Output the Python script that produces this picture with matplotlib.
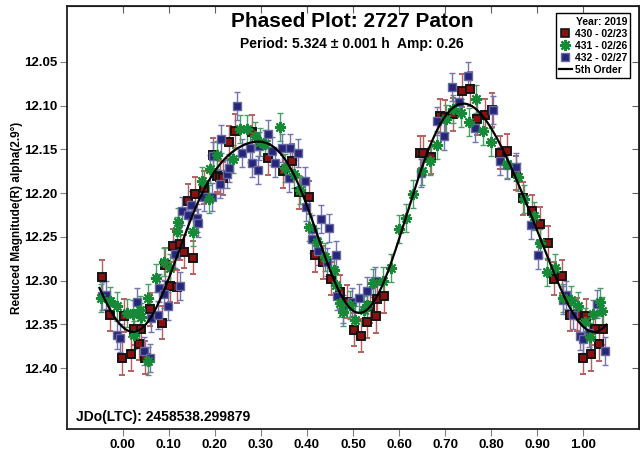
#!/usr/bin/env python3
import numpy as np
import matplotlib
matplotlib.use('Agg')
import matplotlib.pyplot as plt
from matplotlib.lines import Line2D

plt.rcParams['font.family'] = ['Liberation Sans', 'DejaVu Sans']
plt.rcParams['font.weight'] = 'bold'

# session 430 - 02/23
ph_430 = [-0.044, -0.027, 0.004, -0.001, 0.018, 0.024, 0.035, 0.040, 0.049, 0.059,
          0.085, 0.093, 0.102, 0.109, 0.119, 0.125, 0.134, 0.143, 0.152, 0.158,
          0.176, 0.196, 0.205, 0.212, 0.219, 0.230, 0.244, 0.281, 0.315, 0.348,
          0.367, 0.382, 0.404, 0.418, 0.435, 0.452, 0.471, 0.487, 0.503, 0.518,
          0.531, 0.536, 0.550, 0.553, 0.568, 0.646, 0.652, 0.669, 0.688, 0.700,
          0.718, 0.736, 0.753, 0.769, 0.787, 0.801, 0.818, 0.835, 0.854, 0.870,
          0.888, 0.906, 0.923, 0.937, 0.954, 0.971, 0.987, 0.999, 1.006, 1.016,
          1.025, 1.034, 1.042]
mag_430 = [12.296, 12.339, 12.340, 12.389, 12.384, 12.355, 12.372, 12.355, 12.388, 12.333,
           12.348, 12.282, 12.306, 12.260, 12.307, 12.258, 12.267, 12.209, 12.274, 12.201,
           12.194, 12.156, 12.180, 12.182, 12.183, 12.142, 12.129, 12.130, 12.160, 12.175,
           12.163, 12.199, 12.205, 12.271, 12.279, 12.298, 12.313, 12.324, 12.356, 12.363,
           12.347, 12.329, 12.341, 12.321, 12.318, 12.154, 12.154, 12.159, 12.112, 12.113,
           12.110, 12.083, 12.081, 12.115, 12.111, 12.105, 12.154, 12.152, 12.177, 12.206,
           12.221, 12.235, 12.257, 12.298, 12.295, 12.339, 12.339, 12.388, 12.340, 12.384,
           12.355, 12.373, 12.355]
err_430 = 0.019

# session 431 - 02/26
ph_431 = [-0.047, -0.027, -0.012, 0.010, 0.022, 0.024, 0.038, 0.040, 0.056, 0.056,
          0.073, 0.090, 0.103, 0.119, 0.121, 0.154, 0.172, 0.187, 0.190, 0.205,
          0.239, 0.255, 0.271, 0.288, 0.299, 0.310, 0.341, 0.353, 0.371, 0.385,
          0.404, 0.422, 0.440, 0.458, 0.464, 0.472, 0.479, 0.494, 0.505, 0.523,
          0.531, 0.544, 0.566, 0.583, 0.599, 0.615, 0.631, 0.649, 0.667, 0.683,
          0.702, 0.717, 0.734, 0.751, 0.767, 0.782, 0.799, 0.834, 0.857, 0.871,
          0.892, 0.905, 0.921, 0.939, 0.955, 0.973, 0.989, 1.004, 1.015, 1.020,
          1.036, 1.040]
mag_431 = [12.320, 12.323, 12.329, 12.337, 12.338, 12.362, 12.334, 12.342, 12.320, 12.392,
           12.297, 12.279, 12.286, 12.243, 12.233, 12.245, 12.186, 12.207, 12.173, 12.156,
           12.161, 12.127, 12.127, 12.135, 12.142, 12.144, 12.125, 12.171, 12.178, 12.197,
           12.239, 12.256, 12.273, 12.288, 12.305, 12.326, 12.336, 12.328, 12.345, 12.334,
           12.328, 12.303, 12.301, 12.286, 12.241, 12.229, 12.201, 12.175, 12.163, 12.145,
           12.115, 12.104, 12.109, 12.119, 12.093, 12.129, 12.142, 12.167, 12.182, 12.207,
           12.226, 12.257, 12.290, 12.286, 12.320, 12.322, 12.329, 12.347, 12.364, 12.338,
           12.325, 12.335]
err_431 = 0.016

# session 432 - 02/27
ph_432 = [-0.045, -0.035, -0.012, -0.005, 0.031, 0.046, 0.060, 0.062, 0.078, 0.080,
          0.090, 0.098, 0.114, 0.125, 0.130, 0.142, 0.148, 0.161, 0.163, 0.176,
          0.194, 0.196, 0.212, 0.214, 0.226, 0.230, 0.248, 0.259, 0.277, 0.281,
          0.293, 0.297, 0.315, 0.324, 0.331, 0.346, 0.364, 0.380, 0.362, 0.396,
          0.398, 0.412, 0.412, 0.425, 0.431, 0.443, 0.447, 0.464, 0.465, 0.479,
          0.498, 0.514, 0.531, 0.548, 0.647, 0.682, 0.698, 0.715, 0.731, 0.749,
          0.765, 0.803, 0.819, 0.835, 0.854, 0.886, 0.901, 0.955, 0.963, 0.978,
          0.993, 0.999, 1.013, 1.029, 1.047]
mag_432 = [12.318, 12.316, 12.362, 12.366, 12.325, 12.380, 12.388, 12.343, 12.339, 12.308,
           12.315, 12.329, 12.270, 12.306, 12.221, 12.225, 12.214, 12.229, 12.234, 12.204,
           12.205, 12.158, 12.190, 12.138, 12.178, 12.171, 12.101, 12.154, 12.148, 12.166,
           12.174, 12.146, 12.133, 12.152, 12.166, 12.148, 12.148, 12.154, 12.183, 12.186,
           12.216, 12.241, 12.252, 12.266, 12.230, 12.279, 12.240, 12.271, 12.318, 12.332,
           12.324, 12.320, 12.312, 12.301, 12.177, 12.118, 12.135, 12.079, 12.096, 12.066,
           12.126, 12.105, 12.163, 12.168, 12.170, 12.237, 12.271, 12.322, 12.317, 12.339,
           12.363, 12.367, 12.360, 12.327, 12.380]
err_432 = 0.016

period_txt = 'Period: 5.324 \u00b1 0.001 h  Amp: 0.26'
jd_txt = 'JDo(LTC): 2458538.299879'
xticks = [0.0, 0.1, 0.2, 0.3, 0.4, 0.5, 0.6, 0.7, 0.8, 0.9, 1.0]
yticks = [12.05, 12.10, 12.15, 12.20, 12.25, 12.30, 12.35, 12.40]
order = 5

# 5th order Fourier fit over all sessions
all_ph = np.mod(np.array(ph_430 + ph_431 + ph_432), 1.0)
all_mag = np.array(mag_430 + mag_431 + mag_432)


def design(p):
    cols = [np.ones_like(p)]
    for k in range(1, order + 1):
        cols.append(np.cos(2 * np.pi * k * p))
        cols.append(np.sin(2 * np.pi * k * p))
    return np.column_stack(cols)


coef, *_ = np.linalg.lstsq(design(all_ph), all_mag, rcond=None)
fit_ph = np.linspace(-0.05, 1.05, 400)
fit_mag = design(fit_ph) @ coef

fig = plt.figure(figsize=(6.4, 4.5), dpi=100)
ax = fig.add_axes([0.105, 0.046, 0.893, 0.941])

ax.errorbar(ph_430, mag_430, yerr=err_430, fmt='s', ms=6, mfc='#8b1010', mec='#151515',
            mew=1.4, ecolor='#b86060', elinewidth=1, capsize=2.5, zorder=3)
ax.errorbar(ph_431, mag_431, yerr=err_431, fmt='none', ecolor='#4a9f66',
            elinewidth=1, capsize=2.5, zorder=3)
ax.plot(ph_431, mag_431, ls='none', marker=(8, 2, 0), ms=8, mec='#168a36', mew=1.5, zorder=4)
ax.plot(ph_431, mag_431, ls='none', marker='o', ms=3.5, mfc='#168a36', mec='#168a36', zorder=4)
ax.errorbar(ph_432, mag_432, yerr=err_432, fmt='s', ms=6, mfc='#25257a', mec='#6a6aa0',
            mew=1.0, ecolor='#7474b0', elinewidth=1, capsize=2.5, zorder=3)
ax.plot(fit_ph, fit_mag, color='black', lw=1.6, zorder=5)

ax.set_xlim(-0.12, 1.12)
ax.set_ylim(12.47, 11.986)
ax.set_xticks(xticks)
ax.set_xticklabels(['%.2f' % t for t in xticks])
ax.set_yticks(yticks)
ax.set_yticklabels(['%.2f' % t for t in yticks])
ax.tick_params(direction='out', length=5, color='#808080', labelsize=9.5, pad=2)
for s in ax.spines.values():
    s.set_linewidth(1.3)
    s.set_color('#202020')

top = ax.secondary_xaxis('top')
top.set_xticks(xticks)
top.set_xticklabels([])
top.tick_params(direction='in', length=5, color='#606060')
right = ax.secondary_yaxis('right')
right.set_yticks(yticks)
right.set_yticklabels([])
right.tick_params(direction='in', length=5, color='#606060')

ax.set_ylabel('Reduced Magnitude(R) alpha(2.9\u00b0)', fontsize=8.5, fontweight='bold')
ax.yaxis.set_label_coords(-0.077, 0.5)

ax.text(0.498, 0.962, 'Phased Plot: 2727 Paton', transform=ax.transAxes, ha='center',
        va='center', fontsize=15, fontweight='bold')
ax.text(0.498, 0.909, period_txt, transform=ax.transAxes, ha='center', va='center',
        fontsize=10, fontweight='bold')
ax.text(0.016, 0.03, jd_txt, transform=ax.transAxes, ha='left', va='center',
        fontsize=10, fontweight='bold')

handles = [
    Line2D([], [], ls='none', marker='s', ms=6, mfc='#8b1010', mec='#151515', mew=1.2),
    Line2D([], [], ls='none', marker=(8, 2, 0), ms=8, mec='#168a36', mew=1.6),
    Line2D([], [], ls='none', marker='s', ms=6, mfc='#25257a', mec='#6a6aa0', mew=1.0),
    Line2D([], [], color='black', lw=1.6),
]
labels = ['430 - 02/23', '431 - 02/26', '432 - 02/27', '5th Order']
leg = ax.legend(handles, labels, title='Year: 2019', loc='upper right',
                bbox_to_anchor=(0.985, 0.982), borderaxespad=0, fontsize=7.5,
                title_fontsize=7.5, handlelength=1.2, handletextpad=0.3, borderpad=0.3,
                labelspacing=0.2, fancybox=False, framealpha=1, edgecolor='black')
leg.get_frame().set_linewidth(1.0)
leg._legend_box.align = 'right'
leg.get_title().set_fontweight('bold')
for t in leg.get_texts():
    t.set_fontweight('bold')

fig.savefig('out.png', dpi=100)
